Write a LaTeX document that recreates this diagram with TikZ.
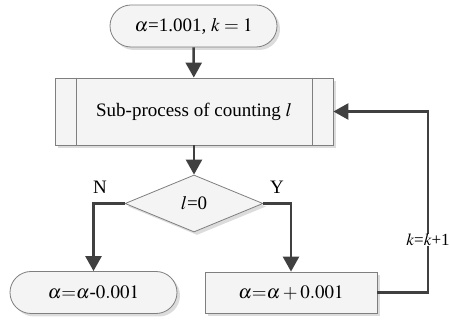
\documentclass[tikz,border=0pt]{standalone}
\usepackage{mathptmx}
\usepackage{fontspec}
\setmainfont{Liberation Serif}
\usetikzlibrary{arrows.meta, shapes.geometric, shapes.misc, shadows}
\definecolor{boxfill}{HTML}{F4F4F4}
\definecolor{boxline}{HTML}{7F7F7F}
\definecolor{flowline}{HTML}{404040}
\definecolor{shade}{HTML}{DCDCDC}

\tikzset{
  base/.style={draw=boxline, line width=0.8pt, fill=boxfill, inner sep=0pt,
    font=\fontsize{19}{22}\selectfont,
    drop shadow={shadow xshift=3pt, shadow yshift=-3pt, fill=shade, opacity=1}},
  terminal/.style={base, rounded rectangle, minimum height=42pt},
  procbox/.style={base, rectangle, minimum height=41pt},
  subproc/.style={base, rectangle, minimum width=278pt, minimum height=67pt},
  decision/.style={base, diamond, aspect=2.42, minimum width=138pt, minimum height=57pt},
  flow/.style={draw=flowline, line width=2.5pt, -{Triangle[length=15pt, width=16pt]}},
  lbl/.style={font=\fontsize{19}{22}\selectfont, inner sep=1pt}
}

\begin{document}
\begin{tikzpicture}[x=1pt, y=-1pt]

% Bounding box
\useasboundingbox (0,0) rectangle (450,320);

% Start
\node[terminal, minimum width=167pt] (start) at (193.5,26) {$\alpha$=1.001, $k=1$};

% Sub-process
\node[subproc] (count) at (194,111.5) {Sub-process of counting $l$};
\draw[boxline, line width=0.8pt] ([xshift=22pt]count.north west) -- ([xshift=22pt]count.south west);
\draw[boxline, line width=0.8pt] ([xshift=-21pt]count.north east) -- ([xshift=-21pt]count.south east);

% Decision
\node[decision] (test) at (194,203.5) {$l$=0};
\node[lbl] (no) at (100,187) {N};
\node[lbl] (yes) at (277,187) {Y};

% Outcomes
\node[terminal, minimum width=167pt] (dec) at (93.5,292.5) {$\alpha{=}\alpha\mbox{-}0.001$};
\node[procbox, minimum width=172pt] (inc) at (291,292.5) {$\alpha{=}\alpha+0.001$};
\coordinate (turn) at (428,292.5);

% Connectors
\draw[flow] (start) -- (count);
\draw[flow] (count) -- (test);
\draw[flow] (test.west) -| (dec);
\draw[flow] (test.east) -| (inc);
\draw[flow] (inc.east) -- (turn) |- (count.east)
  node[lbl, font=\fontsize{17}{20}\selectfont, pos=0.145, fill=white, inner sep=0.5pt] (step) {$k$=$k$+1};

\end{tikzpicture}
\end{document}
